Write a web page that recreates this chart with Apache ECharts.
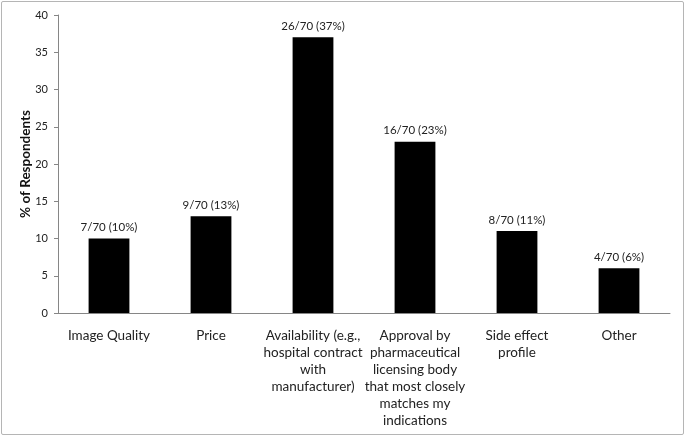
<!DOCTYPE html>
<html>
<head>
<meta charset="utf-8">
<script src="https://cdn.jsdelivr.net/npm/echarts@6/dist/echarts.min.js"></script>
<style>
html,body{margin:0;padding:0;background:#fff;}
#frame{position:absolute;left:1px;top:1px;width:681px;height:432px;border:1px solid #b5b5b5;border-radius:2px;}
#chart{position:absolute;left:0;top:0;width:685px;height:436px;}
</style>
</head>
<body>
<div id="frame"></div>
<div id="chart"></div>
<script>
const categories = [
  "Image Quality",
  "Price",
  "Availability (e.g.,\nhospital contract\nwith\nmanufacturer)",
  "Approval by\npharmaceutical\nlicensing body\nthat most closely\nmatches my\nindications",
  "Side effect\nprofile",
  "Other"
];
const percentValues = [10, 13, 37, 23, 11, 6];
const barLabels = ["7/70 (10%)", "9/70 (13%)", "26/70 (37%)", "16/70 (23%)", "8/70 (11%)", "4/70 (6%)"];
const yTicks = [0, 5, 10, 15, 20, 25, 30, 35, 40];

const FONT = "Lato, 'Open Sans', sans-serif";
const chart = echarts.init(document.getElementById('chart'), null, {renderer: 'canvas'});
chart.setOption({
  animation: false,
  backgroundColor: 'transparent',
  grid: {left: 58, right: 15, top: 15, bottom: 123, containLabel: false},
  xAxis: {
    type: 'category',
    data: categories,
    axisLine: {lineStyle: {color: '#868686', width: 1}},
    axisTick: {show: false},
    axisLabel: {
      interval: 0,
      color: '#222',
      fontFamily: FONT,
      fontSize: 13.5,
      lineHeight: 17,
      margin: 14,
      align: 'center'
    }
  },
  yAxis: {
    type: 'value',
    min: yTicks[0],
    max: yTicks[yTicks.length - 1],
    interval: 5,
    name: '% of Respondents',
    nameLocation: 'middle',
    nameGap: 25,
    nameMoveOverlap: false,
    nameRotate: 90,
    nameTextStyle: {color: '#111', fontFamily: FONT, fontSize: 13.5, fontWeight: 'bold'},
    axisLine: {show: true, lineStyle: {color: '#868686', width: 1}},
    axisTick: {show: true, length: 4, lineStyle: {color: '#868686'}},
    splitLine: {show: false},
    axisLabel: {color: '#222', fontFamily: FONT, fontSize: 11, margin: 10}
  },
  series: [{
    type: 'bar',
    data: percentValues,
    barWidth: '40%',
    itemStyle: {color: '#000'},
    label: {
      show: true,
      position: 'top',
      distance: 5,
      color: '#222',
      fontFamily: FONT,
      fontSize: 11.5,
      formatter: p => barLabels[p.dataIndex]
    }
  }]
});
</script>
</body>
</html>
